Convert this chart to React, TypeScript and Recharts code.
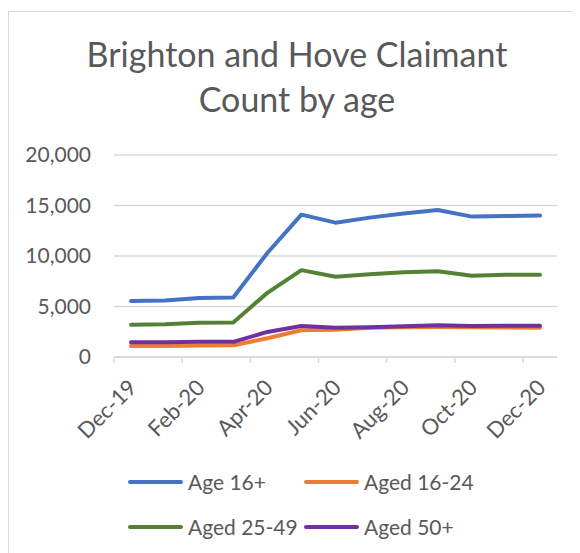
import React from 'react';
import { LineChart, Line, XAxis, YAxis, CartesianGrid, Legend } from 'recharts';

const months = ['Dec-19', 'Jan-20', 'Feb-20', 'Mar-20', 'Apr-20', 'May-20', 'Jun-20', 'Jul-20', 'Aug-20', 'Sep-20', 'Oct-20', 'Nov-20', 'Dec-20'];
const age16plus = [5550, 5600, 5850, 5900, 10300, 14100, 13300, 13800, 14200, 14550, 13900, 13950, 14000];
const aged16to24 = [1090, 1100, 1140, 1160, 1850, 2650, 2700, 2900, 2950, 2980, 2950, 2920, 2900];
const aged25to49 = [3200, 3250, 3380, 3420, 6350, 8600, 7950, 8200, 8380, 8500, 8050, 8150, 8150];
const aged50plus = [1450, 1470, 1500, 1500, 2480, 3070, 2900, 2950, 3050, 3150, 3070, 3090, 3100];
const yTicks = [0, 5000, 10000, 15000, 20000];

const seriesNames = ['Age 16+', 'Aged 16-24', 'Aged 25-49', 'Aged 50+'];
const seriesColors = ['#4472C4', '#ED7D31', '#548235', '#7030A0'];
const seriesKeys = ['a', 'b', 'c', 'd'];

const data = months.map((m, i) => ({
  month: m,
  a: age16plus[i],
  b: aged16to24[i],
  c: aged25to49[i],
  d: aged50plus[i],
}));

const FONT = 'Lato, "Open Sans", sans-serif';
const TEXT = '#595959';
const GRID = '#d9d9d9';
const HALF = 17;

const XTick = (props: any) => {
  const { x, y, payload } = props;
  const ax = x + 7;
  const ay = y + 32;
  return (
    <g>
      <line x1={x - HALF} x2={x - HALF} y1={y} y2={y + 6} stroke={GRID} strokeWidth={1.5} />
      <text
        x={ax}
        y={ay}
        transform={`rotate(-45 ${ax} ${ay})`}
        textAnchor="end"
        fill={TEXT}
        fontSize={22}
        fontFamily={FONT}
      >
        {payload.value}
      </text>
    </g>
  );
};

const renderLegend = () => (
  <div
    style={{
      display: 'grid',
      gridTemplateColumns: '176px 184px',
      height: 90,
      fontFamily: FONT,
      fontSize: 21,
      color: TEXT,
    }}
  >
    {seriesNames.map((n, i) => (
      <div key={n} style={{ display: 'flex', alignItems: 'center', height: 45, whiteSpace: 'nowrap' }}>
        <div style={{ width: 55, height: 4, borderRadius: 2, background: seriesColors[i], marginRight: 5 }} />
        <span>{n}</span>
      </div>
    ))}
  </div>
);

export default function App() {
  return (
    <div style={{ position: 'relative', width: 572, height: 545, overflow: 'hidden', background: '#fff' }}>
      <div
        style={{
          position: 'absolute',
          left: -0.5,
          top: 2.5,
          width: 700,
          height: 700,
          borderTop: `1.5px solid ${GRID}`,
          borderLeft: `1.5px solid ${GRID}`,
          boxSizing: 'border-box',
        }}
      />
      <div
        style={{
          position: 'absolute',
          left: 0,
          top: 23,
          width: 578,
          textAlign: 'center',
          fontFamily: FONT,
          fontSize: 34,
          lineHeight: '45px',
          color: TEXT,
        }}
      >
        Brighton and Hove Claimant
        <br />
        Count by age
      </div>
      <LineChart
        width={572}
        height={545}
        data={data}
        margin={{ top: 147, right: 23, bottom: 4, left: 0 }}
        style={{ position: 'absolute', left: 0, top: 0 }}
      >
        <CartesianGrid vertical={false} stroke={GRID} strokeWidth={1.5} />
        <XAxis
          dataKey="month"
          interval={1}
          tick={<XTick />}
          tickLine={false}
          tickSize={0}
          tickMargin={0}
          height={102}
          padding={{ left: HALF, right: HALF }}
          axisLine={{ stroke: GRID, strokeWidth: 1.5 }}
        />
        <YAxis
          width={106}
          domain={[0, 20000]}
          ticks={yTicks}
          tickFormatter={(v: number) => v.toLocaleString('en-US')}
          axisLine={false}
          tickLine={false}
          tickSize={0}
          tickMargin={23}
          tick={{ fill: TEXT, fontSize: 21, fontFamily: FONT }}
        />
        <Legend
          content={renderLegend}
          verticalAlign="bottom"
          height={90}
          wrapperStyle={{ left: 120, top: 451, width: 360, height: 90 }}
        />
        {seriesKeys.map((k, i) => (
          <Line
            key={k}
            dataKey={k}
            name={seriesNames[i]}
            stroke={seriesColors[i]}
            strokeWidth={4}
            strokeLinecap="round"
            strokeLinejoin="round"
            dot={false}
            activeDot={false}
            type="linear"
            isAnimationActive={false}
          />
        ))}
      </LineChart>
    </div>
  );
}
